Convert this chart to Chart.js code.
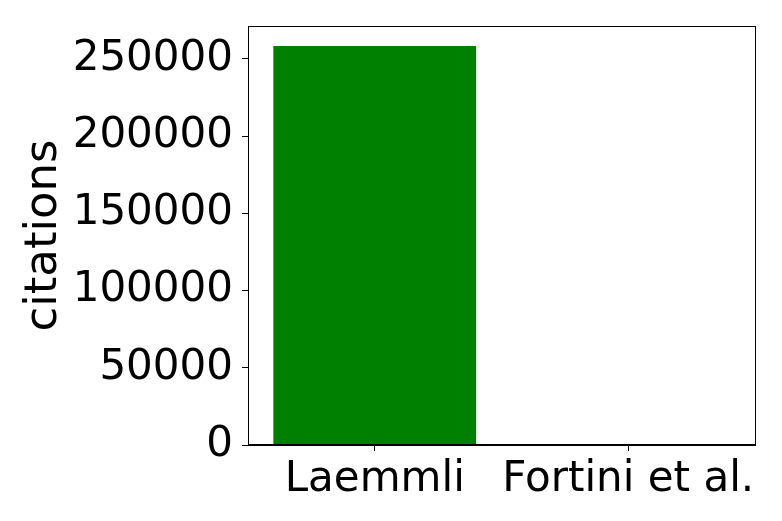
<!DOCTYPE html>
<html>
<head>
<meta charset="utf-8">
<script src="https://cdn.jsdelivr.net/npm/chart.js@4/dist/chart.umd.min.js"></script>
<style>
  html, body { margin: 0; padding: 0; background: #fff; }
  #wrap { width: 782px; height: 521px; }
</style>
</head>
<body>
<div id="wrap"><canvas id="chart" width="782" height="521"></canvas></div>
<script>
const papers = ['Laemmli', 'Fortini et al.'];
const citations = [258300, 20];
const yTicks = [0, 50000, 100000, 150000, 200000, 250000];

// draws the spines on top of the bars, like matplotlib
const frame = {
  id: 'frame',
  afterDraw(chart) {
    const { ctx, chartArea: a } = chart;
    const y0 = chart.scales.y.getPixelForValue(0);
    ctx.save();
    ctx.strokeStyle = '#000';
    ctx.lineWidth = 1;
    ctx.strokeRect(Math.round(a.left) + 0.5, Math.round(a.top) + 0.5,
      Math.round(a.right - a.left), Math.round(a.bottom - a.top));
    ctx.lineWidth = 2;
    ctx.beginPath();
    ctx.moveTo(a.left, y0);
    ctx.lineTo(a.right, y0);
    ctx.stroke();
    ctx.restore();
  }
};

const font = { family: 'DejaVu Sans', size: 42 };

new Chart(document.getElementById('chart'), {
  type: 'bar',
  data: {
    labels: papers,
    datasets: [{
      data: citations,
      backgroundColor: '#008000',
      barPercentage: 0.8,
      categoryPercentage: 1.0,
      inflateAmount: 0
    }]
  },
  options: {
    responsive: false,
    animation: false,
    layout: { padding: { top: 26, right: 27, left: 0, bottom: 0 } },
    plugins: { legend: { display: false }, tooltip: { enabled: false } },
    scales: {
      x: {
        grid: { display: true, drawOnChartArea: false, offset: false, tickLength: 6, color: '#000' },
        border: { color: '#000' },
        ticks: { font, color: '#000', padding: 4, maxRotation: 0, autoSkip: false },
        afterFit(s) { s.height = 76; s.paddingLeft = 0; s.paddingRight = 0; }
      },
      y: {
        min: 0,
        max: 271300,
        grid: { display: true, drawOnChartArea: false, tickLength: 6, color: '#000' },
        border: { color: '#000' },
        afterBuildTicks(s) { s.ticks = yTicks.map(v => ({ value: v })); },
        ticks: { font, color: '#000', padding: 9, callback: v => String(v) },
        title: { display: true, text: 'citations', font: { family: 'DejaVu Sans', size: 45 }, color: '#000', padding: { top: 17, bottom: 0 } },
        afterFit(s) { s.width = 248; s.paddingTop = 0; s.paddingBottom = 0; }
      }
    }
  },
  plugins: [frame]
});
</script>
</body>
</html>
